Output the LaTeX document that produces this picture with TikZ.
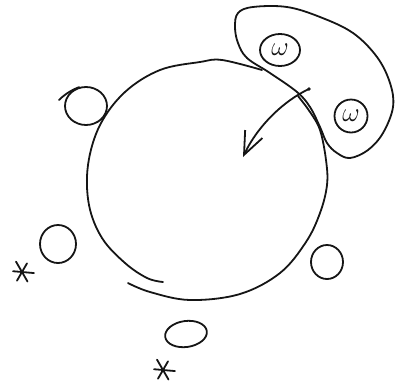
\documentclass[tikz,border=0pt]{standalone}
\usetikzlibrary{arrows.meta,shapes.geometric}
\definecolor{skink}{HTML}{151515}
\newcommand{\skomega}{\scalebox{1.3}{$\omega$}}
\tikzset{
  sk line/.style={draw=skink, line width=1.8pt, line cap=round, line join=round},
  sk pellet/.style={sk line, ellipse, inner sep=0pt},
  sk bubble/.style={sk pellet, font=\huge, text=skink},
  sk arrow/.style={sk line, -{Straight Barb[length=23pt,width=19pt]}},
  sk star/.style={inner sep=0pt, minimum size=0pt}
}

\begin{document}
\begin{tikzpicture}[x=1pt, y=-1pt]
  \useasboundingbox (0,0) rectangle (395,386);
  % big cell, two strokes
  \draw[sk line] plot[smooth, tension=0.6] coordinates {(262,70) (222,60) (200,62) (160,70) (125,92) (100,125) (88,165) (89,205) (102,238) (125,263) (147,278) (163,282)};
  \draw[sk line] plot[smooth, tension=0.6] coordinates {(128,283) (150,292) (190,300) (240,294) (280,273) (306,242) (320,213) (327,185) (326,160) (320,130) (310,112) (298,96)};
  % bean round the two omegas
  \draw[sk line] plot[smooth cycle, tension=0.6] coordinates {(247,58) (270,73) (297,92) (310,107) (320,127) (327,143) (337,153) (350,158) (368,150) (383,133) (393,107) (390,83) (377,57) (353,33) (320,17) (287,7) (253,7) (238,13) (235,27) (238,43)};
  \node[sk bubble, minimum width=40pt, minimum height=32pt] (wa) at (280,50) {\skomega};
  \node[sk bubble, minimum width=33pt, minimum height=33pt] (wb) at (351,116) {\skomega};
  % arrow into the cell
  \coordinate (atail) at (309,89);
  \coordinate (atip) at (243,157);
  \fill[skink] (atail) circle (1.8pt);
  \draw[sk arrow] (atail) .. controls (285,100) and (258,125) .. (atip);
  % pellets outside
  \node[sk pellet, minimum width=42pt, minimum height=38pt] (pa) at (86,106) {};
  \node[sk pellet, minimum width=36pt, minimum height=38pt] (pb) at (58,244) {};
  \node[sk pellet, minimum width=32pt, minimum height=34pt] (pc) at (327,262) {};
  \node[sk pellet, minimum width=42pt, minimum height=26pt, rotate=8] (pd) at (186,334) {};
  \draw[sk line] (59,100) .. controls (66,93) and (74,89) .. (pa.110);
  % stars
  \node[sk star] (sa) at (22,272) {};
  \node[sk star] (sb) at (163,370) {};
  \foreach \st in {sa,sb}
    \foreach \a/\r in {5/12,60/11,120/10,185/9,240/12,300/10}
      \draw[sk line] (\st) -- ++(\a:\r);
\end{tikzpicture}
\end{document}
